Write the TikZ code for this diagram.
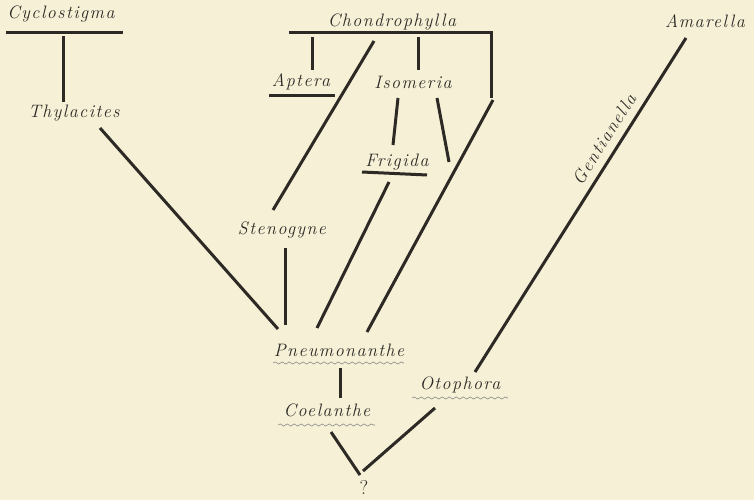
\documentclass[tikz,border=0pt]{standalone}
\usepackage{fontspec}
\setmainfont{Latin Modern Roman}
\usetikzlibrary{decorations.pathmorphing}
\definecolor{paper}{RGB}{245,240,214}
\definecolor{ink}{RGB}{45,42,38}
\tikzset{
  lbl/.style={text=ink, inner sep=0pt, font=\fontsize{18}{18}\selectfont\itshape\addfontfeatures{LetterSpace=8}},
  br/.style={draw=ink, line width=3pt},
  wav/.style={draw=ink!55, line width=0.6pt, decorate, decoration={snake, amplitude=1.1pt, segment length=7pt}}
}
\begin{document}
\begin{tikzpicture}[x=1pt,y=-1pt]
\fill[paper] (0,0) rectangle (754,500);
\useasboundingbox (0,0) rectangle (754,500);
% labels
\node[lbl] (cyc) at (61,14) {Cyclostigma};
\node[lbl] (thy) at (74,113) {Thylacites};
\node[lbl] (cho) at (392,22) {Chondrophylla};
\node[lbl] (apt) at (301,82) {Aptera};
\node[lbl] (iso) at (413,82) {Isomeria};
\node[lbl] (fri) at (397,162) {Frigida};
\node[lbl] (ste) at (282,230) {Stenogyne};
\node[lbl] (pne) at (339,350) {Pneumonanthe};
\node[lbl] (coe) at (327,410) {Coelanthe};
\node[lbl] (oto) at (460,385) {Otophora};
\node[lbl] (ama) at (705,21) {Amarella};
\node[lbl, rotate=57.7] (gen) at (604,139) {Gentianella};
\node[text=ink, inner sep=0pt, font=\fontsize{20}{20}\selectfont] (q) at (364,487) {?};
% coordinates
\coordinate (cycL) at (6,33); \coordinate (cycR) at (123,33);
\coordinate (cycD) at (63,36); \coordinate (thyU) at (63,102);
\coordinate (thyD) at (100,128); \coordinate (pneA) at (278,329);
\coordinate (choL) at (289,33); \coordinate (choR) at (491,33);
\coordinate (aptU) at (312,37); \coordinate (aptD) at (312,70);
\coordinate (aptL) at (269,96); \coordinate (aptR) at (335,96);
\coordinate (isoU) at (418,37); \coordinate (isoD) at (418,70);
\coordinate (isoA) at (398,98); \coordinate (friU) at (393,145);
\coordinate (isoB) at (437,98); \coordinate (isoE) at (449,162);
\coordinate (friL) at (362,172); \coordinate (friR) at (427,175);
\coordinate (friD) at (389,182); \coordinate (pneB) at (317,328);
\coordinate (choD) at (491,98); \coordinate (rtU) at (493,100); \coordinate (pneC) at (367,332);
\coordinate (choM) at (374,41); \coordinate (steU) at (273,210);
\coordinate (steD) at (285,248); \coordinate (pneD) at (285,325);
\coordinate (pneL) at (273,363); \coordinate (pneR) at (404,363);
\coordinate (pneE) at (340,368); \coordinate (coeU) at (340,398);
\coordinate (coeL) at (278,425); \coordinate (coeR) at (375,425);
\coordinate (otoL) at (412,398); \coordinate (otoR) at (508,398);
\coordinate (coeD) at (331,432); \coordinate (qL) at (360,475);
\coordinate (otoD) at (435,408); \coordinate (qR) at (363,471);
\coordinate (otoU) at (475,372); \coordinate (amaD) at (686,38);
% bars and branches
\draw[br] (cycL) -- (cycR);
\draw[br] (cycD) -- (thyU);
\draw[br] (thyD) -- (pneA);
\draw[br] (choL) -- (choR) -- (choD);
\draw[br] (aptU) -- (aptD);
\draw[br] (aptL) -- (aptR);
\draw[br] (isoU) -- (isoD);
\draw[br] (isoA) -- (friU);
\draw[br] (isoB) -- (isoE);
\draw[br] (friL) -- (friR);
\draw[br] (friD) -- (pneB);
\draw[br] (rtU) -- (pneC);
\draw[br] (choM) -- (steU);
\draw[br] (steD) -- (pneD);
\draw[br] (pneE) -- (coeU);
\draw[br] (coeD) -- (qL);
\draw[br] (otoD) -- (qR);
\draw[br] (otoU) -- (amaD);
% wavy underlines
\draw[wav] (pneL) -- (pneR);
\draw[wav] (coeL) -- (coeR);
\draw[wav] (otoL) -- (otoR);
\end{tikzpicture}
\end{document}
